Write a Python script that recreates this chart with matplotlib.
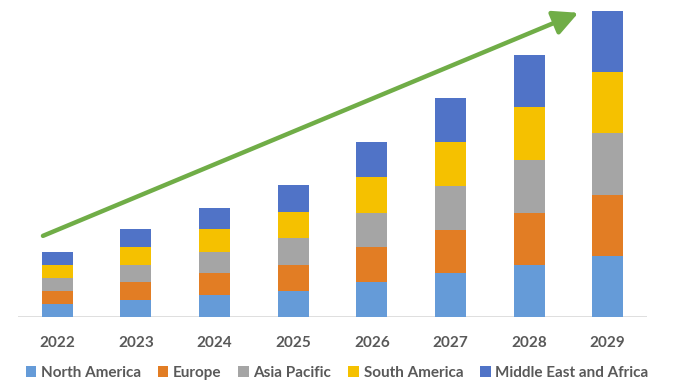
import matplotlib.pyplot as plt
import numpy as np

years = ['2022', '2023', '2024', '2025', '2026', '2027', '2028', '2029']
regions = ['North America', 'Europe', 'Asia Pacific', 'South America', 'Middle East and Africa']
colors = ['#659BD8', '#E27D24', '#A5A5A5', '#F5C100', '#5073C7']

# segment heights (arbitrary units)
north_america = [13.0, 17.0, 22.0, 26.0, 35.0, 43.7, 51.7, 61.0]
europe = [13.0, 18.0, 22.3, 26.0, 35.0, 43.3, 52.7, 61.4]
asia_pacific = [12.7, 17.0, 20.7, 27.0, 34.0, 44.4, 53.0, 61.3]
south_america = [13.3, 18.3, 23.0, 26.0, 35.7, 43.3, 52.6, 61.3]
mea = [13.0, 17.7, 21.0, 27.0, 35.0, 44.0, 52.4, 61.4]
series = [north_america, europe, asia_pacific, south_america, mea]

plt.rcParams['font.family'] = ['Lato', 'DejaVu Sans']

fig = plt.figure(figsize=(6.74, 3.91), dpi=100)
ax = fig.add_axes([0.0267, 0.1893, 0.9332, 0.798])

x = np.arange(len(years))
bottom = np.zeros(len(years))
for name, vals, c in zip(regions, series, colors):
    ax.bar(x, vals, width=0.395, bottom=bottom, color=c, label=name, zorder=2)
    bottom += np.array(vals)

ax.set_xlim(-0.5, len(years) - 0.5)
ax.set_ylim(0, 312)
ax.axhline(0, color='#D9D9D9', lw=1.2, zorder=1)
for s in ax.spines.values():
    s.set_visible(False)
ax.set_yticks([])
ax.set_xticks(x)
ax.set_xticklabels(years, fontsize=11, fontweight='bold', color='#595959')
ax.tick_params(axis='x', length=0, pad=14)

# growth arrow
ax.annotate('', xy=(0.891, 0.975), xytext=(0.0397, 0.26),
            xycoords='axes fraction', textcoords='axes fraction',
            arrowprops=dict(arrowstyle='-|>,head_length=1.5,head_width=0.75',
                            color='#70AD47', lw=3.2, shrinkA=0, shrinkB=0),
            zorder=3)

fig.legend(loc='center', bbox_to_anchor=(0.5, 0.047), ncol=5, frameon=False,
           prop={'size': 11, 'weight': 'bold'}, labelcolor='#595959',
           handlelength=0.7, handleheight=0.7, handletextpad=0.3,
           columnspacing=1.1)

fig.savefig('out.png', dpi=100)
